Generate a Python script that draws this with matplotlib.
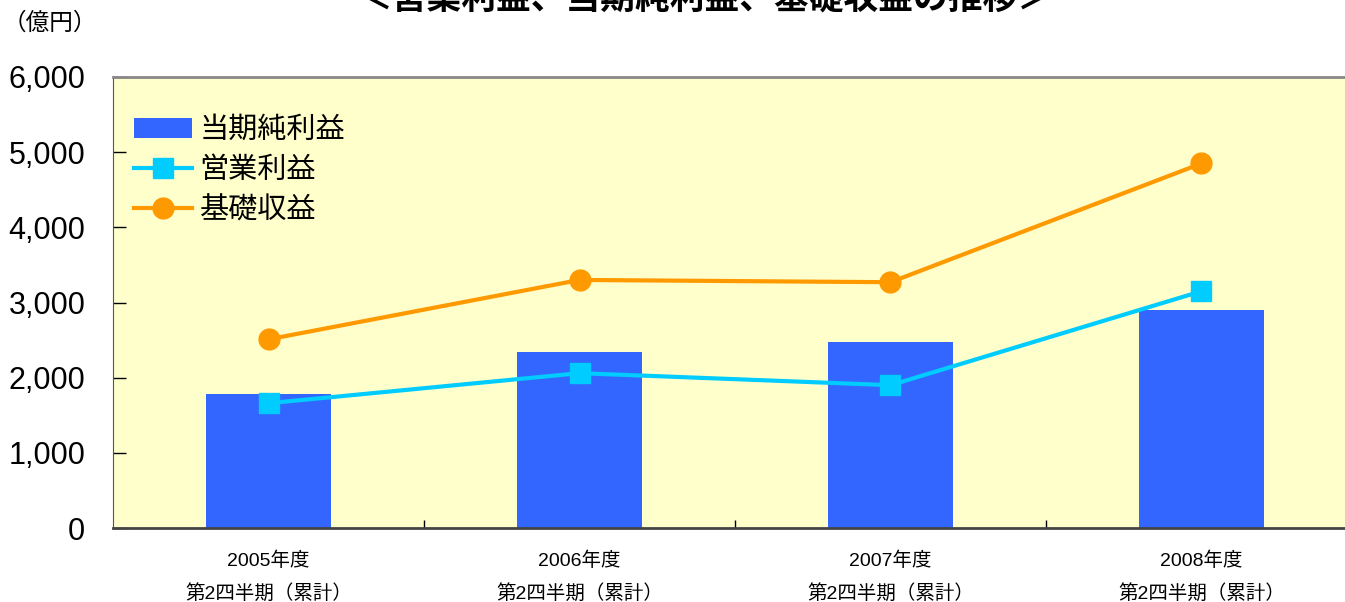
import matplotlib.pyplot as plt
import numpy as np

plt.rcParams["font.family"] = ["Liberation Sans", "Noto Sans CJK JP"]

categories = ["2005年度\n第2四半期（累計）", "2006年度\n第2四半期（累計）",
              "2007年度\n第2四半期（累計）", "2008年度\n第2四半期（累計）"]
net_income = [1780, 2340, 2470, 2900]        # 当期純利益
operating_income = [1660, 2060, 1900, 3150]  # 営業利益
core_profit = [2510, 3300, 3270, 4850]       # 基礎収益
yticks = [0, 1000, 2000, 3000, 4000, 5000, 6000]


def main():
    fig = plt.figure(figsize=(13.45, 6.02), dpi=100)
    # plot area runs a little past the right edge of the image, as in the original
    ax = fig.add_axes([113 / 1345, 1 - 528 / 602, 1244 / 1345, 451 / 602])
    ax.set_facecolor("#FFFFCC")

    x = np.arange(len(categories))
    bars = ax.bar(x, net_income, 0.40, color="#3366FF", label="当期純利益", zorder=2)
    op, = ax.plot(x, operating_income, color="#00CCFF", lw=3, marker="s", ms=14,
                  label="営業利益", zorder=3)
    core, = ax.plot(x, core_profit, color="#FF9900", lw=3, marker="o", ms=15,
                    label="基礎収益", zorder=3)

    ax.set_xlim(-0.5, len(categories) - 0.5)
    ax.set_ylim(0, 6000)
    ax.set_yticks(yticks)
    ax.set_yticklabels([f"{v:,}" for v in yticks], fontsize=22)
    ax.tick_params(axis="y", direction="in", length=9, width=1, pad=20)

    ax.set_xticks(x)
    ax.set_xticklabels(categories, fontsize=14, linespacing=1.9)
    ax.set_xticks(np.arange(len(categories) + 1)[1:-1] - 0.5, minor=True)
    ax.tick_params(axis="x", which="major", length=0, pad=17)
    ax.tick_params(axis="x", which="minor", direction="in", length=6, width=1)

    ax.spines["top"].set_color("#888888")
    ax.spines["top"].set_linewidth(2)
    ax.spines["right"].set_visible(False)
    ax.spines["left"].set_color("#555555")
    ax.spines["bottom"].set_color("#444444")
    ax.spines["bottom"].set_linewidth(2)

    ax.legend(handles=[bars, op, core], loc="upper left",
              bbox_to_anchor=(-0.002, 0.965), frameon=False,
              fontsize=21, handlelength=2.0, handletextpad=0.25,
              labelspacing=0.42, borderaxespad=0.4)

    fig.text(0.524, 1 - 16 / 602, "＜営業利益、当期純利益、基礎収益の推移＞",
             ha="center", va="bottom", fontsize=25, fontweight="bold")
    fig.text(0.002, 1 - 23 / 602, "（億円）", ha="left", va="center", fontsize=17)

    fig.savefig("out.png", dpi=100)


if __name__ == "__main__":
    main()
